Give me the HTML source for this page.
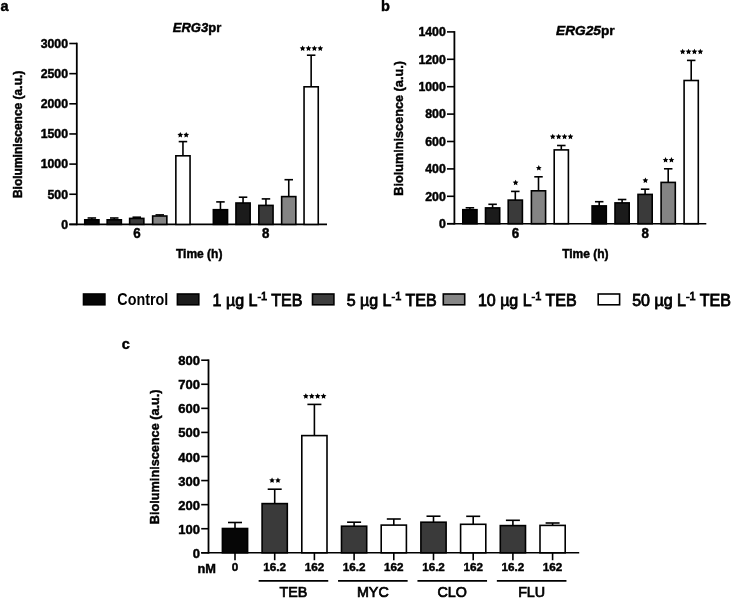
<!DOCTYPE html>
<html><head><meta charset="utf-8"><style>
html,body{margin:0;padding:0;background:#fff;}
svg{display:block;font-family:"Liberation Sans",sans-serif;filter:grayscale(1);}
</style></head><body>
<svg width="732" height="599" viewBox="0 0 732 599">
<rect width="732" height="599" fill="#fff"/>
<line x1="69.30" y1="224.40" x2="76.80" y2="224.40" stroke="#000" stroke-width="1.6"/>
<text x="68.00" y="228.70" font-size="12.3" text-anchor="end" font-weight="bold"  stroke="#000" stroke-width="0.45" >0</text>
<line x1="69.30" y1="194.25" x2="76.80" y2="194.25" stroke="#000" stroke-width="1.6"/>
<text x="68.00" y="198.55" font-size="12.3" text-anchor="end" font-weight="bold"  stroke="#000" stroke-width="0.45" >500</text>
<line x1="69.30" y1="164.10" x2="76.80" y2="164.10" stroke="#000" stroke-width="1.6"/>
<text x="68.00" y="168.40" font-size="12.3" text-anchor="end" font-weight="bold"  stroke="#000" stroke-width="0.45" >1000</text>
<line x1="69.30" y1="133.95" x2="76.80" y2="133.95" stroke="#000" stroke-width="1.6"/>
<text x="68.00" y="138.25" font-size="12.3" text-anchor="end" font-weight="bold"  stroke="#000" stroke-width="0.45" >1500</text>
<line x1="69.30" y1="103.80" x2="76.80" y2="103.80" stroke="#000" stroke-width="1.6"/>
<text x="68.00" y="108.10" font-size="12.3" text-anchor="end" font-weight="bold"  stroke="#000" stroke-width="0.45" >2000</text>
<line x1="69.30" y1="73.65" x2="76.80" y2="73.65" stroke="#000" stroke-width="1.6"/>
<text x="68.00" y="77.95" font-size="12.3" text-anchor="end" font-weight="bold"  stroke="#000" stroke-width="0.45" >2500</text>
<line x1="69.30" y1="43.50" x2="76.80" y2="43.50" stroke="#000" stroke-width="1.6"/>
<text x="68.00" y="47.80" font-size="12.3" text-anchor="end" font-weight="bold"  stroke="#000" stroke-width="0.45" >3000</text>
<line x1="76.80" y1="42.70" x2="76.80" y2="225.20" stroke="#000" stroke-width="1.8"/>
<line x1="69.30" y1="224.40" x2="327.00" y2="224.40" stroke="#000" stroke-width="1.6"/>
<line x1="91.85" y1="219.80" x2="91.85" y2="218.00" stroke="#000" stroke-width="1.6"/>
<line x1="87.60" y1="218.00" x2="96.10" y2="218.00" stroke="#000" stroke-width="1.6"/>
<rect x="84.75" y="219.80" width="14.20" height="4.60" fill="#060606" stroke="#000" stroke-width="1.6"/>
<line x1="114.25" y1="219.80" x2="114.25" y2="218.00" stroke="#000" stroke-width="1.6"/>
<line x1="110.00" y1="218.00" x2="118.50" y2="218.00" stroke="#000" stroke-width="1.6"/>
<rect x="107.15" y="219.80" width="14.20" height="4.60" fill="#1b1b1b" stroke="#000" stroke-width="1.6"/>
<line x1="136.75" y1="218.40" x2="136.75" y2="217.20" stroke="#000" stroke-width="1.6"/>
<line x1="132.50" y1="217.20" x2="141.00" y2="217.20" stroke="#000" stroke-width="1.6"/>
<rect x="129.65" y="218.40" width="14.20" height="6.00" fill="#3a3a3a" stroke="#000" stroke-width="1.6"/>
<line x1="159.75" y1="216.00" x2="159.75" y2="214.90" stroke="#000" stroke-width="1.6"/>
<line x1="155.50" y1="214.90" x2="164.00" y2="214.90" stroke="#000" stroke-width="1.6"/>
<rect x="152.65" y="216.00" width="14.20" height="8.40" fill="#848484" stroke="#000" stroke-width="1.6"/>
<line x1="182.95" y1="155.80" x2="182.95" y2="141.60" stroke="#000" stroke-width="1.6"/>
<line x1="178.70" y1="141.60" x2="187.20" y2="141.60" stroke="#000" stroke-width="1.6"/>
<rect x="175.85" y="155.80" width="14.20" height="68.60" fill="#ffffff" stroke="#000" stroke-width="1.6"/>
<polygon points="180.30,131.95 181.18,133.74 183.15,134.02 181.73,135.41 182.06,137.38 180.30,136.45 178.54,137.38 178.87,135.41 177.45,134.02 179.42,133.74" fill="#000"/>
<polygon points="186.20,131.95 187.08,133.74 189.05,134.02 187.63,135.41 187.96,137.38 186.20,136.45 184.44,137.38 184.77,135.41 183.35,134.02 185.32,133.74" fill="#000"/>
<line x1="220.45" y1="209.70" x2="220.45" y2="201.90" stroke="#000" stroke-width="1.6"/>
<line x1="216.20" y1="201.90" x2="224.70" y2="201.90" stroke="#000" stroke-width="1.6"/>
<rect x="213.35" y="209.70" width="14.20" height="14.70" fill="#060606" stroke="#000" stroke-width="1.6"/>
<line x1="243.05" y1="203.00" x2="243.05" y2="197.20" stroke="#000" stroke-width="1.6"/>
<line x1="238.80" y1="197.20" x2="247.30" y2="197.20" stroke="#000" stroke-width="1.6"/>
<rect x="235.95" y="203.00" width="14.20" height="21.40" fill="#1b1b1b" stroke="#000" stroke-width="1.6"/>
<line x1="265.95" y1="205.40" x2="265.95" y2="198.90" stroke="#000" stroke-width="1.6"/>
<line x1="261.70" y1="198.90" x2="270.20" y2="198.90" stroke="#000" stroke-width="1.6"/>
<rect x="258.85" y="205.40" width="14.20" height="19.00" fill="#3a3a3a" stroke="#000" stroke-width="1.6"/>
<line x1="288.75" y1="196.60" x2="288.75" y2="179.70" stroke="#000" stroke-width="1.6"/>
<line x1="284.50" y1="179.70" x2="293.00" y2="179.70" stroke="#000" stroke-width="1.6"/>
<rect x="281.65" y="196.60" width="14.20" height="27.80" fill="#848484" stroke="#000" stroke-width="1.6"/>
<line x1="311.15" y1="86.80" x2="311.15" y2="55.20" stroke="#000" stroke-width="1.6"/>
<line x1="306.90" y1="55.20" x2="315.40" y2="55.20" stroke="#000" stroke-width="1.6"/>
<rect x="304.05" y="86.80" width="14.20" height="137.60" fill="#ffffff" stroke="#000" stroke-width="1.6"/>
<polygon points="302.60,45.55 303.48,47.34 305.45,47.62 304.03,49.01 304.36,50.98 302.60,50.05 300.84,50.98 301.17,49.01 299.75,47.62 301.72,47.34" fill="#000"/>
<polygon points="308.50,45.55 309.38,47.34 311.35,47.62 309.93,49.01 310.26,50.98 308.50,50.05 306.74,50.98 307.07,49.01 305.65,47.62 307.62,47.34" fill="#000"/>
<polygon points="314.40,45.55 315.28,47.34 317.25,47.62 315.83,49.01 316.16,50.98 314.40,50.05 312.64,50.98 312.97,49.01 311.55,47.62 313.52,47.34" fill="#000"/>
<polygon points="320.30,45.55 321.18,47.34 323.15,47.62 321.73,49.01 322.06,50.98 320.30,50.05 318.54,50.98 318.87,49.01 317.45,47.62 319.42,47.34" fill="#000"/>
<text transform="translate(137.00,238.40) scale(0.9,1.0)" font-size="14.8" text-anchor="middle" font-weight="bold" stroke="#000" stroke-width="0.5" >6</text>
<text transform="translate(265.60,238.40) scale(0.9,1.0)" font-size="14.8" text-anchor="middle" font-weight="bold" stroke="#000" stroke-width="0.5" >8</text>
<text x="199.20" y="258.10" font-size="12" text-anchor="middle" font-weight="bold"  stroke="#000" stroke-width="0.45" >Time (h)</text>
<text x="197.00" y="32.10" font-size="13" text-anchor="middle" font-weight="bold"  stroke="#000" stroke-width="0.45" ><tspan font-style="italic">ERG3</tspan>pr</text>
<text transform="translate(22.4,134.4) rotate(-90)" font-size="12" text-anchor="middle" font-weight="bold" stroke="#000" stroke-width="0.45">Bioluminiscence (a.u.)</text>
<text x="0.60" y="10.60" font-size="14.5" text-anchor="start" font-weight="bold"  stroke="#000" stroke-width="0.45" >a</text>
<line x1="447.00" y1="223.70" x2="454.40" y2="223.70" stroke="#000" stroke-width="1.6"/>
<text x="445.80" y="228.00" font-size="12.3" text-anchor="end" font-weight="bold"  stroke="#000" stroke-width="0.45" >0</text>
<line x1="447.00" y1="196.30" x2="454.40" y2="196.30" stroke="#000" stroke-width="1.6"/>
<text x="445.80" y="200.60" font-size="12.3" text-anchor="end" font-weight="bold"  stroke="#000" stroke-width="0.45" >200</text>
<line x1="447.00" y1="168.90" x2="454.40" y2="168.90" stroke="#000" stroke-width="1.6"/>
<text x="445.80" y="173.20" font-size="12.3" text-anchor="end" font-weight="bold"  stroke="#000" stroke-width="0.45" >400</text>
<line x1="447.00" y1="141.50" x2="454.40" y2="141.50" stroke="#000" stroke-width="1.6"/>
<text x="445.80" y="145.80" font-size="12.3" text-anchor="end" font-weight="bold"  stroke="#000" stroke-width="0.45" >600</text>
<line x1="447.00" y1="114.10" x2="454.40" y2="114.10" stroke="#000" stroke-width="1.6"/>
<text x="445.80" y="118.40" font-size="12.3" text-anchor="end" font-weight="bold"  stroke="#000" stroke-width="0.45" >800</text>
<line x1="447.00" y1="86.70" x2="454.40" y2="86.70" stroke="#000" stroke-width="1.6"/>
<text x="445.80" y="91.00" font-size="12.3" text-anchor="end" font-weight="bold"  stroke="#000" stroke-width="0.45" >1000</text>
<line x1="447.00" y1="59.30" x2="454.40" y2="59.30" stroke="#000" stroke-width="1.6"/>
<text x="445.80" y="63.60" font-size="12.3" text-anchor="end" font-weight="bold"  stroke="#000" stroke-width="0.45" >1200</text>
<line x1="447.00" y1="31.90" x2="454.40" y2="31.90" stroke="#000" stroke-width="1.6"/>
<text x="445.80" y="36.20" font-size="12.3" text-anchor="end" font-weight="bold"  stroke="#000" stroke-width="0.45" >1400</text>
<line x1="454.40" y1="31.10" x2="454.40" y2="224.50" stroke="#000" stroke-width="1.8"/>
<line x1="447.00" y1="223.70" x2="706.30" y2="223.70" stroke="#000" stroke-width="1.6"/>
<line x1="469.90" y1="209.70" x2="469.90" y2="207.80" stroke="#000" stroke-width="1.6"/>
<line x1="465.65" y1="207.80" x2="474.15" y2="207.80" stroke="#000" stroke-width="1.6"/>
<rect x="462.80" y="209.70" width="14.20" height="14.00" fill="#060606" stroke="#000" stroke-width="1.6"/>
<line x1="492.60" y1="207.90" x2="492.60" y2="204.30" stroke="#000" stroke-width="1.6"/>
<line x1="488.35" y1="204.30" x2="496.85" y2="204.30" stroke="#000" stroke-width="1.6"/>
<rect x="485.50" y="207.90" width="14.20" height="15.80" fill="#1b1b1b" stroke="#000" stroke-width="1.6"/>
<line x1="515.30" y1="200.10" x2="515.30" y2="191.40" stroke="#000" stroke-width="1.6"/>
<line x1="511.05" y1="191.40" x2="519.55" y2="191.40" stroke="#000" stroke-width="1.6"/>
<rect x="508.20" y="200.10" width="14.20" height="23.60" fill="#3a3a3a" stroke="#000" stroke-width="1.6"/>
<polygon points="515.60,179.70 516.48,181.49 518.45,181.77 517.03,183.16 517.36,185.13 515.60,184.20 513.84,185.13 514.17,183.16 512.75,181.77 514.72,181.49" fill="#000"/>
<line x1="538.50" y1="190.80" x2="538.50" y2="176.80" stroke="#000" stroke-width="1.6"/>
<line x1="534.25" y1="176.80" x2="542.75" y2="176.80" stroke="#000" stroke-width="1.6"/>
<rect x="531.40" y="190.80" width="14.20" height="32.90" fill="#848484" stroke="#000" stroke-width="1.6"/>
<polygon points="538.80,165.10 539.68,166.89 541.65,167.17 540.23,168.56 540.56,170.53 538.80,169.60 537.04,170.53 537.37,168.56 535.95,167.17 537.92,166.89" fill="#000"/>
<line x1="561.30" y1="149.90" x2="561.30" y2="145.50" stroke="#000" stroke-width="1.6"/>
<line x1="557.05" y1="145.50" x2="565.55" y2="145.50" stroke="#000" stroke-width="1.6"/>
<rect x="554.20" y="149.90" width="14.20" height="73.80" fill="#ffffff" stroke="#000" stroke-width="1.6"/>
<polygon points="552.75,133.80 553.63,135.59 555.60,135.87 554.18,137.26 554.51,139.23 552.75,138.30 550.99,139.23 551.32,137.26 549.90,135.87 551.87,135.59" fill="#000"/>
<polygon points="558.65,133.80 559.53,135.59 561.50,135.87 560.08,137.26 560.41,139.23 558.65,138.30 556.89,139.23 557.22,137.26 555.80,135.87 557.77,135.59" fill="#000"/>
<polygon points="564.55,133.80 565.43,135.59 567.40,135.87 565.98,137.26 566.31,139.23 564.55,138.30 562.79,139.23 563.12,137.26 561.70,135.87 563.67,135.59" fill="#000"/>
<polygon points="570.45,133.80 571.33,135.59 573.30,135.87 571.88,137.26 572.21,139.23 570.45,138.30 568.69,139.23 569.02,137.26 567.60,135.87 569.57,135.59" fill="#000"/>
<line x1="599.20" y1="205.90" x2="599.20" y2="201.70" stroke="#000" stroke-width="1.6"/>
<line x1="594.95" y1="201.70" x2="603.45" y2="201.70" stroke="#000" stroke-width="1.6"/>
<rect x="592.10" y="205.90" width="14.20" height="17.80" fill="#060606" stroke="#000" stroke-width="1.6"/>
<line x1="622.10" y1="202.90" x2="622.10" y2="199.50" stroke="#000" stroke-width="1.6"/>
<line x1="617.85" y1="199.50" x2="626.35" y2="199.50" stroke="#000" stroke-width="1.6"/>
<rect x="615.00" y="202.90" width="14.20" height="20.80" fill="#1b1b1b" stroke="#000" stroke-width="1.6"/>
<line x1="645.10" y1="194.40" x2="645.10" y2="189.20" stroke="#000" stroke-width="1.6"/>
<line x1="640.85" y1="189.20" x2="649.35" y2="189.20" stroke="#000" stroke-width="1.6"/>
<rect x="638.00" y="194.40" width="14.20" height="29.30" fill="#3a3a3a" stroke="#000" stroke-width="1.6"/>
<polygon points="645.40,177.50 646.28,179.29 648.25,179.57 646.83,180.96 647.16,182.93 645.40,182.00 643.64,182.93 643.97,180.96 642.55,179.57 644.52,179.29" fill="#000"/>
<line x1="668.20" y1="182.40" x2="668.20" y2="168.80" stroke="#000" stroke-width="1.6"/>
<line x1="663.95" y1="168.80" x2="672.45" y2="168.80" stroke="#000" stroke-width="1.6"/>
<rect x="661.10" y="182.40" width="14.20" height="41.30" fill="#848484" stroke="#000" stroke-width="1.6"/>
<polygon points="665.55,157.10 666.43,158.89 668.40,159.17 666.98,160.56 667.31,162.53 665.55,161.60 663.79,162.53 664.12,160.56 662.70,159.17 664.67,158.89" fill="#000"/>
<polygon points="671.45,157.10 672.33,158.89 674.30,159.17 672.88,160.56 673.21,162.53 671.45,161.60 669.69,162.53 670.02,160.56 668.60,159.17 670.57,158.89" fill="#000"/>
<line x1="691.20" y1="80.50" x2="691.20" y2="60.40" stroke="#000" stroke-width="1.6"/>
<line x1="686.95" y1="60.40" x2="695.45" y2="60.40" stroke="#000" stroke-width="1.6"/>
<rect x="684.10" y="80.50" width="14.20" height="143.20" fill="#ffffff" stroke="#000" stroke-width="1.6"/>
<polygon points="682.65,48.70 683.53,50.49 685.50,50.77 684.08,52.16 684.41,54.13 682.65,53.20 680.89,54.13 681.22,52.16 679.80,50.77 681.77,50.49" fill="#000"/>
<polygon points="688.55,48.70 689.43,50.49 691.40,50.77 689.98,52.16 690.31,54.13 688.55,53.20 686.79,54.13 687.12,52.16 685.70,50.77 687.67,50.49" fill="#000"/>
<polygon points="694.45,48.70 695.33,50.49 697.30,50.77 695.88,52.16 696.21,54.13 694.45,53.20 692.69,54.13 693.02,52.16 691.60,50.77 693.57,50.49" fill="#000"/>
<polygon points="700.35,48.70 701.23,50.49 703.20,50.77 701.78,52.16 702.11,54.13 700.35,53.20 698.59,54.13 698.92,52.16 697.50,50.77 699.47,50.49" fill="#000"/>
<text transform="translate(515.50,238.40) scale(0.9,1.0)" font-size="14.8" text-anchor="middle" font-weight="bold" stroke="#000" stroke-width="0.5" >6</text>
<text transform="translate(645.10,238.40) scale(0.9,1.0)" font-size="14.8" text-anchor="middle" font-weight="bold" stroke="#000" stroke-width="0.5" >8</text>
<text x="585.40" y="258.10" font-size="12" text-anchor="middle" font-weight="bold"  stroke="#000" stroke-width="0.45" >Time (h)</text>
<text x="585.30" y="34.80" font-size="13.7" text-anchor="middle" font-weight="bold"  stroke="#000" stroke-width="0.45" ><tspan font-style="italic">ERG25</tspan>pr</text>
<text transform="translate(403.2,128.4) rotate(-90)" font-size="12.7" text-anchor="middle" font-weight="bold" stroke="#000" stroke-width="0.45">Bioluminiscence (a.u.)</text>
<text x="381.00" y="10.60" font-size="14.5" text-anchor="start" font-weight="bold"  stroke="#000" stroke-width="0.45" >b</text>
<rect x="83.50" y="294.00" width="21.40" height="10.80" fill="#060606" stroke="#000" stroke-width="1.6"/>
<text x="117.30" y="304.80" font-size="16" text-anchor="start" font-weight="bold" textLength="51" lengthAdjust="spacingAndGlyphs" >Control</text>
<rect x="177.40" y="294.00" width="21.40" height="10.80" fill="#1c1c1c" stroke="#000" stroke-width="1.6"/>
<text x="212.60" y="305.60" font-size="16" text-anchor="start" font-weight="normal" stroke="#000" stroke-width="0.8" >1 µg L<tspan dy='-6' font-size='11'>-1</tspan><tspan dy='6'> TEB</tspan></text>
<rect x="312.50" y="294.00" width="21.40" height="10.80" fill="#3d3d3d" stroke="#000" stroke-width="1.6"/>
<text x="346.70" y="305.60" font-size="16" text-anchor="start" font-weight="normal" stroke="#000" stroke-width="0.8" >5 µg L<tspan dy='-6' font-size='11'>-1</tspan><tspan dy='6'> TEB</tspan></text>
<rect x="443.30" y="294.00" width="21.40" height="10.80" fill="#868686" stroke="#000" stroke-width="1.6"/>
<text x="477.90" y="305.60" font-size="16" text-anchor="start" font-weight="normal" stroke="#000" stroke-width="0.8" >10 µg L<tspan dy='-6' font-size='11'>-1</tspan><tspan dy='6'> TEB</tspan></text>
<rect x="598.20" y="294.00" width="21.40" height="10.80" fill="#ffffff" stroke="#000" stroke-width="1.6"/>
<text x="632.20" y="305.60" font-size="16" text-anchor="start" font-weight="normal" stroke="#000" stroke-width="0.8" >50 µg L<tspan dy='-6' font-size='11'>-1</tspan><tspan dy='6'> TEB</tspan></text>
<line x1="201.20" y1="552.80" x2="208.50" y2="552.80" stroke="#000" stroke-width="1.6"/>
<text x="200.00" y="557.80" font-size="13" text-anchor="end" font-weight="bold"  stroke="#000" stroke-width="0.45" >0</text>
<line x1="201.20" y1="528.72" x2="208.50" y2="528.72" stroke="#000" stroke-width="1.6"/>
<text x="200.00" y="533.72" font-size="13" text-anchor="end" font-weight="bold"  stroke="#000" stroke-width="0.45" >100</text>
<line x1="201.20" y1="504.65" x2="208.50" y2="504.65" stroke="#000" stroke-width="1.6"/>
<text x="200.00" y="509.65" font-size="13" text-anchor="end" font-weight="bold"  stroke="#000" stroke-width="0.45" >200</text>
<line x1="201.20" y1="480.57" x2="208.50" y2="480.57" stroke="#000" stroke-width="1.6"/>
<text x="200.00" y="485.57" font-size="13" text-anchor="end" font-weight="bold"  stroke="#000" stroke-width="0.45" >300</text>
<line x1="201.20" y1="456.50" x2="208.50" y2="456.50" stroke="#000" stroke-width="1.6"/>
<text x="200.00" y="461.50" font-size="13" text-anchor="end" font-weight="bold"  stroke="#000" stroke-width="0.45" >400</text>
<line x1="201.20" y1="432.42" x2="208.50" y2="432.42" stroke="#000" stroke-width="1.6"/>
<text x="200.00" y="437.42" font-size="13" text-anchor="end" font-weight="bold"  stroke="#000" stroke-width="0.45" >500</text>
<line x1="201.20" y1="408.35" x2="208.50" y2="408.35" stroke="#000" stroke-width="1.6"/>
<text x="200.00" y="413.35" font-size="13" text-anchor="end" font-weight="bold"  stroke="#000" stroke-width="0.45" >600</text>
<line x1="201.20" y1="384.27" x2="208.50" y2="384.27" stroke="#000" stroke-width="1.6"/>
<text x="200.00" y="389.27" font-size="13" text-anchor="end" font-weight="bold"  stroke="#000" stroke-width="0.45" >700</text>
<line x1="201.20" y1="360.20" x2="208.50" y2="360.20" stroke="#000" stroke-width="1.6"/>
<text x="200.00" y="365.20" font-size="13" text-anchor="end" font-weight="bold"  stroke="#000" stroke-width="0.45" >800</text>
<line x1="208.50" y1="359.40" x2="208.50" y2="553.60" stroke="#000" stroke-width="1.8"/>
<line x1="201.20" y1="552.80" x2="579.20" y2="552.80" stroke="#000" stroke-width="1.6"/>
<line x1="235.00" y1="528.50" x2="235.00" y2="522.50" stroke="#000" stroke-width="1.6"/>
<line x1="228.00" y1="522.50" x2="242.00" y2="522.50" stroke="#000" stroke-width="1.6"/>
<rect x="222.40" y="528.50" width="25.20" height="24.30" fill="#060606" stroke="#000" stroke-width="1.6"/>
<line x1="235.00" y1="552.80" x2="235.00" y2="560.20" stroke="#000" stroke-width="1.6"/>
<text x="235.00" y="571.30" font-size="11.7" text-anchor="middle" font-weight="bold"  stroke="#000" stroke-width="0.45" >0</text>
<line x1="274.70" y1="503.60" x2="274.70" y2="489.20" stroke="#000" stroke-width="1.6"/>
<line x1="267.70" y1="489.20" x2="281.70" y2="489.20" stroke="#000" stroke-width="1.6"/>
<rect x="262.10" y="503.60" width="25.20" height="49.20" fill="#3a3a3a" stroke="#000" stroke-width="1.6"/>
<polygon points="272.05,477.40 272.93,479.19 274.90,479.47 273.48,480.86 273.81,482.83 272.05,481.90 270.29,482.83 270.62,480.86 269.20,479.47 271.17,479.19" fill="#000"/>
<polygon points="277.95,477.40 278.83,479.19 280.80,479.47 279.38,480.86 279.71,482.83 277.95,481.90 276.19,482.83 276.52,480.86 275.10,479.47 277.07,479.19" fill="#000"/>
<line x1="274.70" y1="552.80" x2="274.70" y2="560.20" stroke="#000" stroke-width="1.6"/>
<text x="274.70" y="571.30" font-size="11.7" text-anchor="middle" font-weight="bold"  stroke="#000" stroke-width="0.45" >16.2</text>
<line x1="314.40" y1="435.60" x2="314.40" y2="404.40" stroke="#000" stroke-width="1.6"/>
<line x1="307.40" y1="404.40" x2="321.40" y2="404.40" stroke="#000" stroke-width="1.6"/>
<rect x="301.80" y="435.60" width="25.20" height="117.20" fill="#ffffff" stroke="#000" stroke-width="1.6"/>
<polygon points="305.85,393.20 306.73,394.99 308.70,395.27 307.28,396.66 307.61,398.63 305.85,397.70 304.09,398.63 304.42,396.66 303.00,395.27 304.97,394.99" fill="#000"/>
<polygon points="311.75,393.20 312.63,394.99 314.60,395.27 313.18,396.66 313.51,398.63 311.75,397.70 309.99,398.63 310.32,396.66 308.90,395.27 310.87,394.99" fill="#000"/>
<polygon points="317.65,393.20 318.53,394.99 320.50,395.27 319.08,396.66 319.41,398.63 317.65,397.70 315.89,398.63 316.22,396.66 314.80,395.27 316.77,394.99" fill="#000"/>
<polygon points="323.55,393.20 324.43,394.99 326.40,395.27 324.98,396.66 325.31,398.63 323.55,397.70 321.79,398.63 322.12,396.66 320.70,395.27 322.67,394.99" fill="#000"/>
<line x1="314.40" y1="552.80" x2="314.40" y2="560.20" stroke="#000" stroke-width="1.6"/>
<text x="314.40" y="571.30" font-size="11.7" text-anchor="middle" font-weight="bold"  stroke="#000" stroke-width="0.45" >162</text>
<line x1="354.10" y1="526.20" x2="354.10" y2="522.20" stroke="#000" stroke-width="1.6"/>
<line x1="347.10" y1="522.20" x2="361.10" y2="522.20" stroke="#000" stroke-width="1.6"/>
<rect x="341.50" y="526.20" width="25.20" height="26.60" fill="#3a3a3a" stroke="#000" stroke-width="1.6"/>
<line x1="354.10" y1="552.80" x2="354.10" y2="560.20" stroke="#000" stroke-width="1.6"/>
<text x="354.10" y="571.30" font-size="11.7" text-anchor="middle" font-weight="bold"  stroke="#000" stroke-width="0.45" >16.2</text>
<line x1="393.80" y1="525.10" x2="393.80" y2="519.00" stroke="#000" stroke-width="1.6"/>
<line x1="386.80" y1="519.00" x2="400.80" y2="519.00" stroke="#000" stroke-width="1.6"/>
<rect x="381.20" y="525.10" width="25.20" height="27.70" fill="#ffffff" stroke="#000" stroke-width="1.6"/>
<line x1="393.80" y1="552.80" x2="393.80" y2="560.20" stroke="#000" stroke-width="1.6"/>
<text x="393.80" y="571.30" font-size="11.7" text-anchor="middle" font-weight="bold"  stroke="#000" stroke-width="0.45" >162</text>
<line x1="433.50" y1="522.20" x2="433.50" y2="516.20" stroke="#000" stroke-width="1.6"/>
<line x1="426.50" y1="516.20" x2="440.50" y2="516.20" stroke="#000" stroke-width="1.6"/>
<rect x="420.90" y="522.20" width="25.20" height="30.60" fill="#3a3a3a" stroke="#000" stroke-width="1.6"/>
<line x1="433.50" y1="552.80" x2="433.50" y2="560.20" stroke="#000" stroke-width="1.6"/>
<text x="433.50" y="571.30" font-size="11.7" text-anchor="middle" font-weight="bold"  stroke="#000" stroke-width="0.45" >16.2</text>
<line x1="473.20" y1="524.30" x2="473.20" y2="516.30" stroke="#000" stroke-width="1.6"/>
<line x1="466.20" y1="516.30" x2="480.20" y2="516.30" stroke="#000" stroke-width="1.6"/>
<rect x="460.60" y="524.30" width="25.20" height="28.50" fill="#ffffff" stroke="#000" stroke-width="1.6"/>
<line x1="473.20" y1="552.80" x2="473.20" y2="560.20" stroke="#000" stroke-width="1.6"/>
<text x="473.20" y="571.30" font-size="11.7" text-anchor="middle" font-weight="bold"  stroke="#000" stroke-width="0.45" >162</text>
<line x1="512.90" y1="525.60" x2="512.90" y2="520.30" stroke="#000" stroke-width="1.6"/>
<line x1="505.90" y1="520.30" x2="519.90" y2="520.30" stroke="#000" stroke-width="1.6"/>
<rect x="500.30" y="525.60" width="25.20" height="27.20" fill="#3a3a3a" stroke="#000" stroke-width="1.6"/>
<line x1="512.90" y1="552.80" x2="512.90" y2="560.20" stroke="#000" stroke-width="1.6"/>
<text x="512.90" y="571.30" font-size="11.7" text-anchor="middle" font-weight="bold"  stroke="#000" stroke-width="0.45" >16.2</text>
<line x1="552.60" y1="525.40" x2="552.60" y2="523.00" stroke="#000" stroke-width="1.6"/>
<line x1="545.60" y1="523.00" x2="559.60" y2="523.00" stroke="#000" stroke-width="1.6"/>
<rect x="540.00" y="525.40" width="25.20" height="27.40" fill="#ffffff" stroke="#000" stroke-width="1.6"/>
<line x1="552.60" y1="552.80" x2="552.60" y2="560.20" stroke="#000" stroke-width="1.6"/>
<text x="552.60" y="571.30" font-size="11.7" text-anchor="middle" font-weight="bold"  stroke="#000" stroke-width="0.45" >162</text>
<text x="197.40" y="573.20" font-size="12.8" text-anchor="start" font-weight="bold"  stroke="#000" stroke-width="0.45" >nM</text>
<line x1="258.65" y1="580.80" x2="328.25" y2="580.80" stroke="#000" stroke-width="1.8"/>
<text x="293.45" y="597.40" font-size="14.3" text-anchor="middle" font-weight="normal" stroke="#000" stroke-width="0.7" >TEB</text>
<line x1="338.05" y1="580.80" x2="407.65" y2="580.80" stroke="#000" stroke-width="1.8"/>
<text x="372.85" y="597.40" font-size="14.3" text-anchor="middle" font-weight="normal" stroke="#000" stroke-width="0.7" >MYC</text>
<line x1="417.45" y1="580.80" x2="487.05" y2="580.80" stroke="#000" stroke-width="1.8"/>
<text x="452.25" y="597.40" font-size="14.3" text-anchor="middle" font-weight="normal" stroke="#000" stroke-width="0.7" >CLO</text>
<line x1="496.85" y1="580.80" x2="566.45" y2="580.80" stroke="#000" stroke-width="1.8"/>
<text x="531.65" y="597.40" font-size="14.3" text-anchor="middle" font-weight="normal" stroke="#000" stroke-width="0.7" >FLU</text>
<text transform="translate(158.5,456.8) rotate(-90)" font-size="12.7" text-anchor="middle" font-weight="bold" stroke="#000" stroke-width="0.45">Bioluminiscence (a.u.)</text>
<text x="121.70" y="348.80" font-size="14.5" text-anchor="start" font-weight="bold"  stroke="#000" stroke-width="0.45" >c</text>
</svg>
</body></html>
